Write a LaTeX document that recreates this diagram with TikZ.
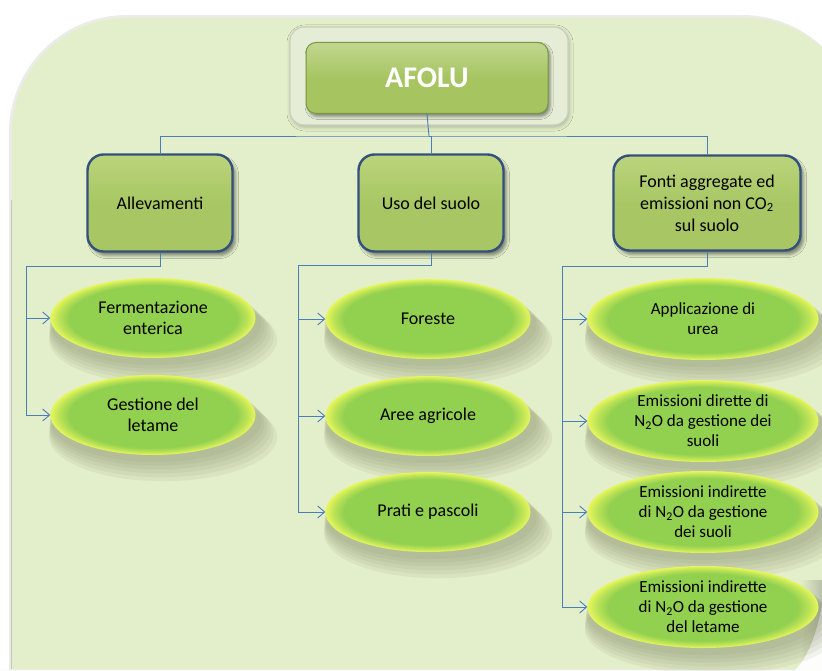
\documentclass[tikz,border=0pt]{standalone}
\usepackage{fontspec}
\setmainfont{Carlito}
\usetikzlibrary{arrows.meta,shadows,shadows.blur,shapes.geometric,calc}

\definecolor{panel}{HTML}{E3EFCA}
\definecolor{paneledge}{HTML}{C4C8BA}
\definecolor{boxfill}{HTML}{A8C764}
\definecolor{boxtop}{HTML}{BBD47C}
\definecolor{boxedge}{HTML}{34507C}
\definecolor{btnfill}{HTML}{A6C561}
\definecolor{btnedge}{HTML}{7A9640}
\definecolor{framefill}{HTML}{E6EDD6}
\definecolor{frameedge}{HTML}{CACEC0}
\definecolor{leafmid}{HTML}{92D050}
\definecolor{leafrim}{HTML}{E6F65C}
\definecolor{leafshade}{HTML}{8A926E}
\definecolor{link}{HTML}{4A7EBB}
\definecolor{curl}{HTML}{B9C0A8}

% filling of the source ellipses: green body, yellow rim (25bp = outline)
\pgfdeclareradialshading{leaf}{\pgfpoint{0bp}{0bp}}{%
  color(0bp)=(leafmid); color(20.5bp)=(leafmid);
  color(23bp)=(leafrim!50!leafmid); color(25bp)=(leafrim); color(50bp)=(leafrim)}

\tikzset{
  topframe/.style={rounded corners=14pt, fill=framefill, draw=frameedge,
    line width=1.2pt, minimum width=278pt, minimum height=98pt,
    blur shadow={shadow xshift=1pt, shadow yshift=-2pt, shadow blur radius=4pt, shadow opacity=25}},
  topbtn/.style={rounded corners=10pt, draw=btnedge, line width=1pt,
    top color=btnfill!70!white, bottom color=btnfill, middle color=btnfill,
    minimum width=242pt, minimum height=71pt,
    font=\fontsize{30}{32}\selectfont\bfseries, text=white,
    blur shadow={shadow xshift=2pt, shadow yshift=-3pt, shadow blur radius=3pt, shadow opacity=45}},
  catbox/.style={rounded corners=16pt, draw=boxedge, line width=2.4pt,
    top color=boxtop, bottom color=boxfill, middle color=boxfill,
    minimum width=145pt, minimum height=97pt, align=center,
    font=\fontsize{18}{22}\selectfont, text=black,
    blur shadow={shadow xshift=3pt, shadow yshift=-4pt, shadow blur radius=3pt, shadow opacity=45}},
  % soft shadow built from a few translucent layers
  leafshadow/.style={general shadow={fill=leafshade, fill opacity=0.11,
    shadow xshift=#1*1.3pt, shadow yshift=-#1*2.8pt, shadow scale=1+#1*0.016}},
  leaf/.style={ellipse, shading=leaf, inner sep=0pt, align=center,
    minimum width=205pt, minimum height=80pt,
    font=\fontsize{18}{21}\selectfont, text=black,
    leafshadow=7, leafshadow=6, leafshadow=5, leafshadow=4, leafshadow=3, leafshadow=2},
  wideleaf/.style={leaf, minimum width=231pt, minimum height=82pt,
    font=\fontsize{17}{20}\selectfont},
  conn/.style={draw=link, line width=0.9pt},
  feed/.style={conn, -{Straight Barb[length=7pt,width=12pt]}},
}

\begin{document}
\begin{tikzpicture}[x=1pt,y=-1pt]
\useasboundingbox (0,0) rectangle (822,671);

\begin{scope}
  \clip (0,0) rectangle (822,671);
  % background panel with rounded upper-left corner
  \fill[paneledge!35!white, rounded corners=118pt]
    (9,700) -- (9,15) -- (860,15) -- (860,700);
  \fill[panel, rounded corners=115pt]
    (12,669) -- (12,18) -- (860,18) -- (860,669);
  \draw[paneledge, line width=1.2pt] (11.5,200) -- (11.5,669);
  \fill[white!92!paneledge] (0,669.5) rectangle (860,680);
  % curled lower-right corner
  \shade[left color=panel, right color=curl]
    (800,580) -- (822,580) -- (822,671) -- (800,671) -- cycle;
  \fill[white!94!panel]
    (822,605) .. controls (816,638) and (806,660) .. (794,671) -- (822,671) -- cycle;
\end{scope}

% root
\node[topframe] (afoluframe) at (429,76) {};
\node[topbtn] (afolu) at (427,78) {AFOLU};

% categories
\node[catbox] (alle)  at (160,203) {Allevamenti};
\node[catbox] (suolo) at (431,203) {Uso del suolo};
\node[catbox, minimum width=187pt, minimum height=95pt] (fonti) at (707,203)
  {Fonti aggregate ed\\emissioni non CO\textsubscript{2}\\sul suolo};

% sources
\node[leaf] (ferm)  at (153,318) {Fermentazione\\enterica};
\node[leaf] (gest)  at (153,415) {Gestione del\\letame};
\node[leaf] (fore)  at (428,319) {Foreste};
\node[leaf] (aree)  at (428,416) {Aree agricole};
\node[leaf] (prati) at (428,512) {Prati e pascoli};
\node[wideleaf] (urea) at (703,319) {Applicazione di\\urea};
\node[wideleaf] (dir)  at (703,421) {Emissioni dirette di\\N\textsubscript{2}O da gestione dei\\suoli};
\node[wideleaf] (ind1) at (703,512) {Emissioni indirette\\di N\textsubscript{2}O da gestione\\dei suoli};
\node[wideleaf] (ind2) at (703,607) {Emissioni indirette\\di N\textsubscript{2}O da gestione\\del letame};

% connectors
\coordinate (bus) at (429,136);
\coordinate (ja) at (26,266);
\coordinate (jb) at (298,265);
\coordinate (jc) at (562,266);

\draw[conn] (afolu.south) -- (bus);
\draw[conn] (alle.north) |- (bus) -| (fonti.north);
\draw[conn] (suolo.north) |- (bus);

\draw[feed] (alle.south) |- (ja) |- (ferm.west);
\draw[feed] (ja) |- (gest.west);

\draw[feed] (suolo.south) |- (jb) |- (fore.west);
\draw[feed] (jb) |- (aree.west);
\draw[feed] (jb) |- (prati.west);

\draw[feed] (fonti.south) |- (jc) |- (urea.west);
\draw[feed] (jc) |- (dir.west);
\draw[feed] (jc) |- (ind1.west);
\draw[feed] (jc) |- (ind2.west);
\end{tikzpicture}
\end{document}
